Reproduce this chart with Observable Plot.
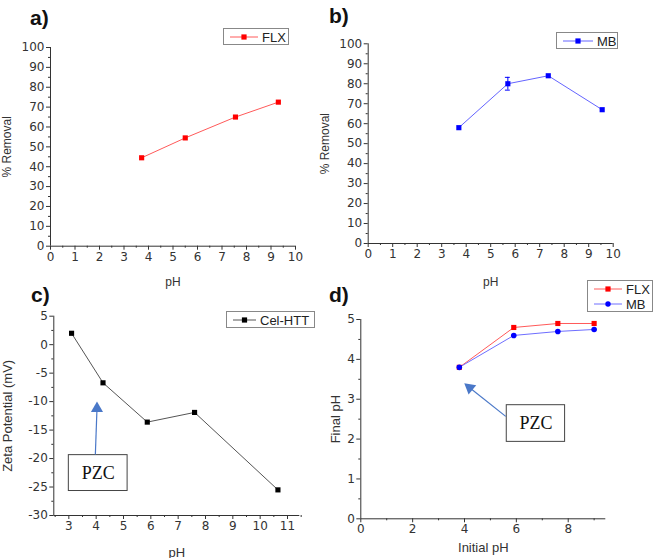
<!DOCTYPE html>
<html>
<head>
<meta charset="utf-8">
<script src="https://cdn.jsdelivr.net/npm/d3@7"></script>
<script src="https://cdn.jsdelivr.net/npm/@observablehq/plot@0.6"></script>
<style>
  html, body { margin: 0; padding: 0; background: #fff; }
  #root { position: relative; width: 654px; height: 558px; overflow: hidden; font-family: "Liberation Sans", Arial, sans-serif; color: #333; }
  .panel { position: absolute; width: 327px; height: 279px; }
  .panel svg { overflow: visible; }
  .tag { position: absolute; font-weight: bold; font-size: 21px; color: #111; line-height: 1; }
  .legend { position: absolute; border: 1px solid #888; background: #fff; box-sizing: border-box; }
  .legend svg { position: absolute; left: 0; top: 0; }
</style>
</head>
<body>
<div id="root"></div>
<script>
// ---- data ----
const flxPH = [3.72, 5.5, 7.55, 9.3];
const flxRemoval = [44.5, 54.5, 65, 72.5];

const mbPH = [3.7, 5.7, 7.35, 9.55];
const mbRemoval = [58, 80, 84, 67];
const mbErr = [0, 3.2, 0, 0];

const zetaPH = [3.1, 4.25, 5.87, 7.6, 10.65];
const zetaMV = [2, -6.7, -13.6, -11.9, -25.5];

const initialPH = [3.8, 5.9, 7.6, 9.0];
const finalFLX = [3.8, 4.8, 4.9, 4.9];
const finalMB = [3.8, 4.6, 4.7, 4.75];

// tick values
const ticksRemovalX = [0,1,2,3,4,5,6,7,8,9,10];
const minorRemovalX = [0.5,1.5,2.5,3.5,4.5,5.5,6.5,7.5,8.5,9.5];
const ticksRemovalY = [0,10,20,30,40,50,60,70,80,90,100];
const minorRemovalY = [5,15,25,35,45,55,65,75,85,95];
const ticksZetaX = [3,4,5,6,7,8,9,10,11];
const minorZetaX = [2.5,3.5,4.5,5.5,6.5,7.5,8.5,9.5,10.5,11.5];
const ticksZetaY = [5,0,-5,-10,-15,-20,-25,-30];
const minorZetaY = [2.5,-2.5,-7.5,-12.5,-17.5,-22.5,-27.5];
const ticksFinalX = [0,2,4,6,8];
const minorFinalX = [1,3,5,7,9];
const ticksFinalY = [0,1,2,3,4,5];
const minorFinalY = [0.5,1.5,2.5,3.5,4.5];

// annotations (data coordinates)
const pzcC = [{x1: 3.97, y1: -19.3, x2: 4.03, y2: -11.2, bx1: 3.0, bx2: 5.15, by1: -19.4, by2: -25.7, tx: 4.075, ty: -22.6, rot: 0}];
const pzcD = [{x1: 5.59, y1: 2.57, x2: 4.2, y2: 3.29, bx1: 5.63, bx2: 7.88, by1: 2.85, by2: 1.93, tx: 6.76, ty: 2.39, rot: -51}];

const rows = (xs, ys) => xs.map((x, i) => ({x, y: ys[i]}));
const fmt = d => String(d);
const SANS = "'Liberation Sans', Arial, sans-serif";
const TICKFONT = "'DejaVu Sans', Verdana, sans-serif";

const root = document.getElementById("root");

function panel({left, top, xDomain, yDomain, m, xT, xm, yT, ym, xLabel, yLabel, xOff, yOff, labelSize, marks}) {
  const p = Plot.plot({
    width: 327, height: 279,
    marginLeft: m[0], marginRight: m[1], marginTop: m[2], marginBottom: m[3],
    style: {background: "transparent", overflow: "visible", color: "#333"},
    x: {domain: xDomain},
    y: {domain: yDomain},
    marks: [
      Plot.axisX({ticks: xT, tickSize: 4, tickPadding: 2, tickFormat: fmt, label: null, fontSize: 12, fontFamily: TICKFONT}),
      Plot.axisX({ticks: xT, tickSize: 0, tickFormat: () => "", label: xLabel, labelAnchor: "center", labelOffset: xOff, labelArrow: false, fontSize: labelSize, fontFamily: SANS}),
      Plot.axisX({ticks: xm, tickSize: 2, tickFormat: () => "", label: null}),
      Plot.axisY({ticks: yT, tickSize: 4, tickPadding: 2, tickFormat: fmt, label: null, fontSize: 12, fontFamily: TICKFONT}),
      Plot.axisY({ticks: yT, tickSize: 0, tickFormat: () => "", label: yLabel, labelAnchor: "center", labelOffset: yOff, labelArrow: false, fontSize: labelSize, fontFamily: SANS}),
      Plot.axisY({ticks: ym, tickSize: 2, tickFormat: () => "", label: null}),
      Plot.ruleY([yDomain[0]], {stroke: "#333"}),
      Plot.ruleX([xDomain[0]], {stroke: "#333"}),
      ...marks
    ]
  });
  const d = document.createElement("div");
  d.className = "panel";
  d.style.left = left + "px";
  d.style.top = top + "px";
  d.appendChild(p);
  root.appendChild(d);
}

function tag(text, left, top) {
  const t = document.createElement("div");
  t.className = "tag";
  t.textContent = text;
  t.style.left = left + "px";
  t.style.top = top + "px";
  root.appendChild(t);
}

function legend(left, top, w, items) {
  const h = items.length * 15 + 2;
  const d = document.createElement("div");
  d.className = "legend";
  d.style.left = left + "px"; d.style.top = top + "px";
  d.style.width = w + "px"; d.style.height = h + "px";
  let s = `<svg width="${w}" height="${h}" xmlns="http://www.w3.org/2000/svg">`;
  items.forEach((it, i) => {
    const cy = 8 + i * 15;
    s += `<line x1="6" x2="${6 + it.len}" y1="${cy}" y2="${cy}" stroke="${it.line}" stroke-width="1"/>`;
    const cx = 6 + it.len / 2;
    if (it.shape === "circle") s += `<circle cx="${cx}" cy="${cy}" r="2.7" fill="${it.color}"/>`;
    else s += `<rect x="${cx - 2.6}" y="${cy - 2.6}" width="5.2" height="5.2" fill="${it.color}"/>`;
    s += `<text x="${10 + it.len}" y="${cy + 4.5}" font-size="13" fill="#222" font-family="'Liberation Sans', Arial, sans-serif">${it.label}</text>`;
  });
  s += `</svg>`;
  d.innerHTML = s;
  root.appendChild(d);
}

// a) FLX removal
panel({
  left: 0, top: 0, xDomain: [0, 10], yDomain: [0, 100], m: [50, 32, 47, 33.3],
  xT: ticksRemovalX, xm: minorRemovalX, yT: ticksRemovalY, ym: minorRemovalY,
  xLabel: "pH", yLabel: "% Removal", xOff: 40, yOff: 48, labelSize: 12,
  marks: [
    Plot.line(rows(flxPH, flxRemoval), {x: "x", y: "y", stroke: "#ff5a5a", strokeWidth: 1}),
    Plot.dot(rows(flxPH, flxRemoval), {x: "x", y: "y", symbol: "square", r: 2.9, fill: "#f00"})
  ]
});

// b) MB removal
const mbRows = mbPH.map((x, i) => ({x, y: mbRemoval[i], e: mbErr[i]}));
const mbErrRows = mbRows.filter(d => d.e > 0);
panel({
  left: 327, top: 0, xDomain: [0, 10], yDomain: [0, 100], m: [40.7, 41.3, 43.3, 36],
  xT: ticksRemovalX, xm: minorRemovalX, yT: ticksRemovalY, ym: minorRemovalY,
  xLabel: "pH", yLabel: "% Removal", xOff: 42, yOff: 48, labelSize: 12,
  marks: [
    Plot.line(mbRows, {x: "x", y: "y", stroke: "#6464ff", strokeWidth: 1}),
    Plot.ruleX(mbErrRows, {x: "x", y1: d => d.y - d.e, y2: d => d.y + d.e, stroke: "#0000ff"}),
    Plot.ruleY(mbErrRows, {y: d => d.y + d.e, x1: d => d.x - 0.1, x2: d => d.x + 0.1, stroke: "#0000ff"}),
    Plot.ruleY(mbErrRows, {y: d => d.y - d.e, x1: d => d.x - 0.1, x2: d => d.x + 0.1, stroke: "#0000ff"}),
    Plot.dot(mbRows, {x: "x", y: "y", symbol: "square", r: 2.9, fill: "#00f"})
  ]
});

// c) Zeta potential
panel({
  left: 0, top: 279, xDomain: [2.45, 11.45], yDomain: [-30, 5], m: [53.3, 27.7, 36.7, 43],
  xT: ticksZetaX, xm: minorZetaX, yT: ticksZetaY, ym: minorZetaY,
  xLabel: "pH", yLabel: "Zeta Potential (mV)", xOff: 41, yOff: 51, labelSize: 13,
  marks: [
    Plot.line(rows(zetaPH, zetaMV), {x: "x", y: "y", stroke: "#555", strokeWidth: 1}),
    Plot.dot(rows(zetaPH, zetaMV), {x: "x", y: "y", symbol: "square", r: 2.9, fill: "#000"}),
    Plot.rect(pzcC, {x1: "bx1", x2: "bx2", y1: "by1", y2: "by2", fill: "#fff", stroke: "#444", strokeWidth: 1}),
    Plot.text(pzcC, {x: "tx", y: "ty", text: () => "PZC", fontFamily: "'Liberation Serif', 'Times New Roman', serif", fontSize: 18, fill: "#111"}),
    Plot.link(pzcC, {x1: "x1", y1: "y1", x2: "x2", y2: "y2", stroke: "#4a78c8", strokeWidth: 1.2}),
    Plot.dot(pzcC, {x: "x2", y: "y2", symbol: "triangle", r: 4.5, fill: "#4a78c8", rotate: "rot"})
  ]
});

// d) Final vs initial pH
panel({
  left: 327, top: 279, xDomain: [0, 9.45], yDomain: [0, 5], m: [33.3, 48.7, 40, 39.7],
  xT: ticksFinalX, xm: minorFinalX, yT: ticksFinalY, ym: minorFinalY,
  xLabel: "Initial pH", yLabel: "Final pH", xOff: 33, yOff: 30, labelSize: 13,
  marks: [
    Plot.line(rows(initialPH, finalFLX), {x: "x", y: "y", stroke: "#ff5a5a", strokeWidth: 1}),
    Plot.line(rows(initialPH, finalMB), {x: "x", y: "y", stroke: "#6e6eff", strokeWidth: 1}),
    Plot.dot(rows(initialPH, finalFLX), {x: "x", y: "y", symbol: "square", r: 2.9, fill: "#f00"}),
    Plot.dot(rows(initialPH, finalMB), {x: "x", y: "y", symbol: "circle", r: 2.8, fill: "#00f"}),
    Plot.rect(pzcD, {x1: "bx1", x2: "bx2", y1: "by1", y2: "by2", fill: "#fff", stroke: "#444", strokeWidth: 1}),
    Plot.text(pzcD, {x: "tx", y: "ty", text: () => "PZC", fontFamily: "'Liberation Serif', 'Times New Roman', serif", fontSize: 18, fill: "#111"}),
    Plot.link(pzcD, {x1: "x1", y1: "y1", x2: "x2", y2: "y2", stroke: "#4a78c8", strokeWidth: 1.2}),
    Plot.dot(pzcD, {x: "x2", y: "y2", symbol: "triangle", r: 4.5, fill: "#4a78c8", rotate: "rot"})
  ]
});

// panel tags
tag("a)", 30, 7);
tag("b)", 329, 5);
tag("c)", 31, 284);
tag("d)", 329, 284);

// legends
legend(223, 28, 66, [{label: "FLX", line: "#ff5a5a", color: "#f00", shape: "square", len: 28}]);
legend(556, 32, 62, [{label: "MB", line: "#6464ff", color: "#00f", shape: "square", len: 30}]);
legend(226, 311, 89, [{label: "Cel-HTT", line: "#555", color: "#000", shape: "square", len: 23}]);
legend(587, 280, 66, [
  {label: "FLX", line: "#ff5a5a", color: "#f00", shape: "square", len: 28},
  {label: "MB", line: "#6e6eff", color: "#00f", shape: "circle", len: 28}
]);
</script>
</body>
</html>
